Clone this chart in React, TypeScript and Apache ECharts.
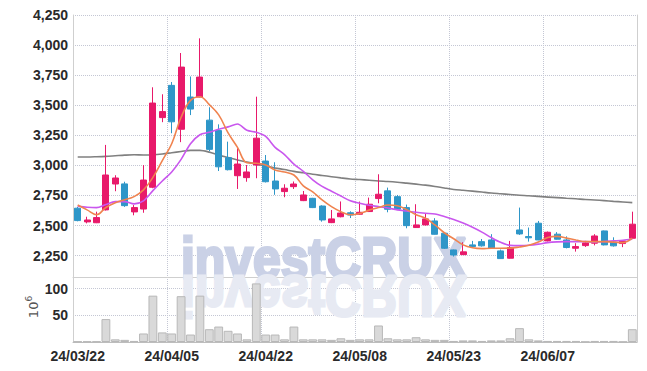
import React, { useEffect, useRef } from 'react';
import * as echarts from 'echarts';

const dates = [
  '24/03/22', '24/03/25', '24/03/26', '24/03/27', '24/03/28', '24/03/29',
  '24/04/01', '24/04/02', '24/04/03', '24/04/04', '24/04/05',
  '24/04/08', '24/04/09', '24/04/11', '24/04/12',
  '24/04/15', '24/04/16', '24/04/17', '24/04/18', '24/04/19',
  '24/04/22', '24/04/23', '24/04/24', '24/04/25', '24/04/26',
  '24/04/29', '24/04/30', '24/05/02', '24/05/03', '24/05/07', '24/05/08',
  '24/05/09', '24/05/10', '24/05/13', '24/05/14', '24/05/16', '24/05/17',
  '24/05/20', '24/05/21', '24/05/22', '24/05/23',
  '24/05/24', '24/05/27', '24/05/28', '24/05/29', '24/05/30', '24/05/31',
  '24/06/03', '24/06/04', '24/06/05', '24/06/07',
  '24/06/10', '24/06/11', '24/06/12', '24/06/13', '24/06/14',
  '24/06/17', '24/06/18', '24/06/19', '24/06/20',
];

const opens = [
  2644, 2530, 2523, 2630, 2845, 2846, 2613, 2637, 2818, 3397,
  3665, 3300, 3568, 3568, 3376, 3289, 3064, 2914, 2898, 3003,
  3036, 2870, 2782, 2823, 2707, 2726, 2662, 2524, 2573, 2606,
  2594, 2616, 2724, 2788, 2740, 2649, 2483, 2505, 2538, 2436,
  2297, 2258, 2339, 2366, 2380, 2289, 2228, 2463, 2408, 2519,
  2372, 2428, 2380, 2311, 2333, 2353, 2455, 2361, 2350, 2394,
];
const closes = [
  2541, 2546, 2566, 2920, 2895, 2665, 2649, 2878, 3518, 3447,
  3362, 3817, 3468, 3734, 3133, 2988, 2964, 3011, 2945, 3226,
  2864, 2804, 2810, 2845, 2754, 2649, 2546, 2555, 2604, 2587,
  2610, 2677, 2760, 2635, 2635, 2499, 2505, 2555, 2427, 2311,
  2255, 2281, 2325, 2331, 2311, 2225, 2317, 2430, 2398, 2380,
  2444, 2386, 2317, 2325, 2355, 2413, 2339, 2331, 2372, 2511,
];
const lows = [
  2535, 2518, 2520, 2625, 2785, 2655, 2585, 2606, 2810, 3359,
  3267, 3193, 3418, 3565, 3118, 2953, 2958, 2804, 2864, 2893,
  2858, 2755, 2735, 2804, 2703, 2645, 2532, 2520, 2568, 2562,
  2590, 2612, 2685, 2610, 2630, 2477, 2480, 2500, 2425, 2305,
  2242, 2255, 2318, 2325, 2305, 2222, 2225, 2422, 2366, 2378,
  2368, 2383, 2310, 2283, 2322, 2335, 2335, 2325, 2320, 2390,
];
const highs = [
  2655, 2573, 2615, 3170, 2918, 2864, 2670, 3002, 3649, 3591,
  3693, 3934, 3739, 4056, 3483, 3341, 3197, 3142, 3003, 3571,
  3086, 3026, 2843, 2866, 2787, 2730, 2668, 2629, 2700, 2618,
  2699, 2732, 2926, 2815, 2754, 2674, 2677, 2602, 2561, 2440,
  2300, 2361, 2372, 2388, 2428, 2300, 2372, 2649, 2483, 2538,
  2450, 2445, 2410, 2353, 2372, 2428, 2458, 2402, 2378, 2615,
];

const maShort = [
  2671, 2630, 2590, 2650, 2690, 2715, 2740, 2796, 2900, 3040,
  3180, 3400, 3540, 3571, 3505, 3420, 3270, 3150, 3022, 3017,
  3003, 2962, 2945, 2920, 2830, 2780, 2713, 2657, 2615, 2590,
  2600, 2628, 2649, 2670, 2665, 2632, 2590, 2560, 2505, 2440,
  2390, 2339, 2315, 2308, 2311, 2311, 2312, 2322, 2336, 2362,
  2400, 2410, 2395, 2380, 2366, 2366, 2366, 2362, 2358, 2395,
];
const maMid = [
  2660, 2652, 2649, 2675, 2699, 2699, 2680, 2705, 2790, 2870,
  2945, 3050, 3180, 3255, 3275, 3300, 3320, 3344, 3292, 3275,
  3240, 3150, 3090, 3010, 2950, 2880, 2825, 2785, 2745, 2705,
  2685, 2668, 2657, 2645, 2630, 2620, 2610, 2602, 2595, 2575,
  2550, 2520, 2485, 2445, 2400, 2360, 2335, 2333, 2336, 2345,
  2358, 2364, 2366, 2366, 2366, 2362, 2366, 2372, 2378, 2386,
];
const maLong = [
  3070, 3070, 3072, 3075, 3080, 3085, 3088, 3086, 3088, 3095,
  3105, 3115, 3125, 3125, 3110, 3085, 3065, 3045, 3028, 3010,
  2995, 2978, 2965, 2950, 2938, 2926, 2916, 2906, 2896, 2887,
  2882, 2876, 2870, 2866, 2860, 2852, 2844, 2836, 2825, 2812,
  2800, 2793, 2786, 2778, 2770, 2764, 2758, 2752, 2748, 2742,
  2736, 2732, 2727, 2722, 2716, 2712, 2707, 2701, 2696, 2690,
];

const volumes = [
  1, 1, 1, 43, 5, 4, 2, 16, 87, 18,
  16, 86, 14, 87, 24, 29, 21, 16, 5, 110,
  14, 14, 5, 29, 5, 5, 5, 4, 7, 4,
  5, 5, 31, 7, 5, 5, 9, 5, 4, 4,
  2, 3, 3, 2, 3, 3, 7, 26, 5, 3,
  2, 2, 2, 2, 0.5, 2, 2, 2, 0.5, 24,
];

const priceTicks = [2250, 2500, 2750, 3000, 3250, 3500, 3750, 4000, 4250];
const volumeTicks = [50, 100];

const LABEL_FONT = '"Liberation Sans", Arial, sans-serif';
const UP = '#e8196a';
const DOWN = '#2e96c8';
const GRID_DOT = '#c4c7d4';
const BORDER = '#cfcfcf';

function fmt(v: number) {
  return String(v).replace(/\B(?=(\d{3})+(?!\d))/g, ',');
}

export default function App() {
  const ref = useRef<HTMLDivElement>(null);
  useEffect(() => {
    document.body.style.margin = '0';
    const chart = echarts.init(ref.current!, null, { renderer: 'svg' });
    const candleData = dates.map((_, i) => [opens[i], closes[i], lows[i], highs[i]]);
    const every10 = (i: number) => i % 10 === 0;
    const splitLineX = { show: true, interval: every10, lineStyle: { type: 'dotted', color: GRID_DOT, width: 1 } };
    const wm = {
      text: 'investCRUX', fontSize: 58, fontWeight: 900,
      fontFamily: '"Liberation Sans", Arial, sans-serif',
      verticalAlign: 'bottom', align: 'left', lineWidth: 3,
    };
    const labelStyle = { fontFamily: LABEL_FONT, fontSize: 14, fontWeight: 'bold', color: '#2a2a2a' };
    chart.setOption({
      animation: false,
      backgroundColor: '#ffffff',
      graphic: [
        {
          type: 'text', x: 181, y: 287, scaleX: 0.86, z: 1, silent: true,
          style: { ...wm, fill: '#cad1e6', stroke: '#cad1e6' },
        },
        {
          type: 'text', x: 181, y: 267, scaleX: 0.86, scaleY: -1, z: 1, silent: true,
          style: { ...wm, fill: '#e7eaf3', stroke: '#e7eaf3' },
        },
        {
          type: 'text', x: 33, y: 307, rotation: Math.PI / 2, z: 5, silent: true,
          style: {
            text: '{a|10}{b|6}', align: 'center', verticalAlign: 'middle',
            rich: {
              a: { fontSize: 13, fill: '#555', fontFamily: 'DejaVu Sans', lineHeight: 18 },
              b: { fontSize: 9, fill: '#555', fontFamily: 'DejaVu Sans', verticalAlign: 'top', lineHeight: 18 },
            },
          },
        },
      ],
      grid: [
        { left: 73, right: 10, top: 15, height: 262 },
        { left: 73, right: 10, top: 277, height: 65 },
      ],
      xAxis: [
        {
          type: 'category', gridIndex: 0, data: dates, boundaryGap: true,
          axisLine: { show: true, lineStyle: { color: BORDER } },
          axisTick: { show: false }, axisLabel: { show: false },
          splitLine: splitLineX,
        },
        {
          type: 'category', gridIndex: 1, data: dates, boundaryGap: true,
          axisLine: { show: true, lineStyle: { color: '#bdbdbd' } },
          axisTick: { show: false },
          axisLabel: { interval: every10, ...labelStyle, margin: 7 },
          splitLine: splitLineX,
        },
      ],
      yAxis: [
        {
          type: 'value', gridIndex: 0, min: 2072, max: 4250,
          axisLine: { show: true, lineStyle: { color: BORDER } },
          axisTick: { show: false, customValues: priceTicks },
          axisLabel: { customValues: priceTicks, formatter: (v: number) => fmt(v), ...labelStyle, margin: 5 },
          splitLine: { show: true, lineStyle: { type: 'dotted', color: GRID_DOT } },
        },
        {
          type: 'value', gridIndex: 0, position: 'right', min: 2072, max: 4250,
          axisLine: { show: true, lineStyle: { color: BORDER } },
          axisTick: { show: false }, axisLabel: { show: false }, splitLine: { show: false },
        },
        {
          type: 'value', gridIndex: 1, min: 0, max: 122,
          axisLine: { show: true, lineStyle: { color: BORDER } },
          axisTick: { show: false, customValues: volumeTicks },
          axisLabel: { customValues: volumeTicks, ...labelStyle, margin: 5 },
          splitLine: { show: true, lineStyle: { type: 'dotted', color: GRID_DOT } },
        },
        {
          type: 'value', gridIndex: 1, position: 'right', min: 0, max: 122,
          axisLine: { show: true, lineStyle: { color: BORDER } },
          axisTick: { show: false }, axisLabel: { show: false }, splitLine: { show: false },
        },
      ],
      series: [
        {
          type: 'candlestick', xAxisIndex: 0, yAxisIndex: 0, data: candleData, barWidth: '70%',
          itemStyle: { color: UP, color0: DOWN, borderColor: UP, borderColor0: DOWN, borderWidth: 1 },
          z: 3,
        },
        {
          type: 'line', xAxisIndex: 0, yAxisIndex: 0, data: maLong, symbol: 'none', smooth: 0.3,
          lineStyle: { color: '#808080', width: 1.6 }, z: 2,
        },
        {
          type: 'line', xAxisIndex: 0, yAxisIndex: 0, data: maMid, symbol: 'none', smooth: 0.3,
          lineStyle: { color: '#c957ee', width: 1.6 }, z: 4,
        },
        {
          type: 'line', xAxisIndex: 0, yAxisIndex: 0, data: maShort, symbol: 'none', smooth: 0.4,
          lineStyle: { color: '#f0834f', width: 1.6 }, z: 5,
        },
        {
          type: 'bar', xAxisIndex: 1, yAxisIndex: 2, data: volumes, barWidth: '94%',
          itemStyle: { color: '#d9d9d9', borderColor: '#b8b8b8', borderWidth: 1 },
          z: 3,
        },
      ],
    });
    return () => chart.dispose();
  }, []);
  return <div ref={ref} style={{ width: 647, height: 371 }} />;
}
